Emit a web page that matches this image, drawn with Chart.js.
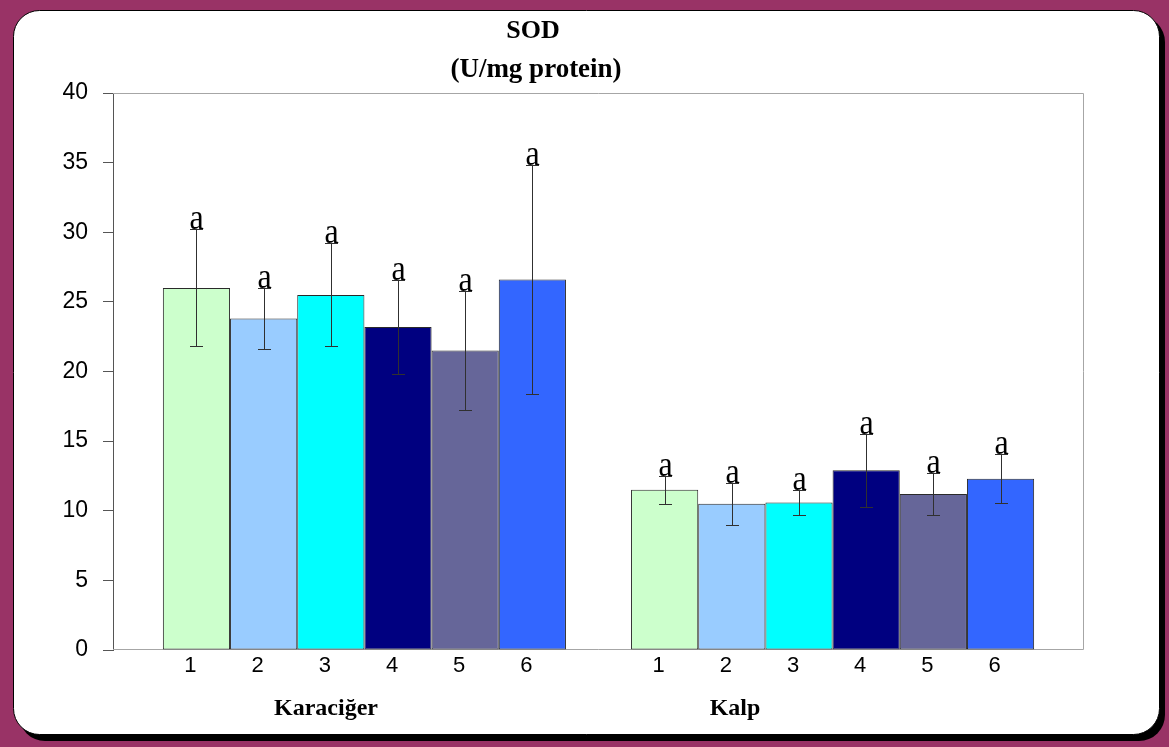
<!DOCTYPE html>
<html>
<head>
<meta charset="utf-8">
<title>SOD (U/mg protein)</title>
<script src="https://cdn.jsdelivr.net/npm/chart.js@4/dist/chart.umd.min.js"></script>
<style>
  html, body { margin: 0; padding: 0; background: #993366; }
  canvas { display: block; }
</style>
</head>
<body>
<canvas id="sodChart" width="1169" height="747"></canvas>
<script>
// Tissue groups and treatment groups
const groups = ['Karaciğer', 'Kalp'];
const treatments = ['1', '2', '3', '4', '5', '6'];

// SOD activity (U/mg protein): mean and error per treatment
const karacigerSOD = [26.0, 23.8, 25.5, 23.2, 21.5, 26.6];
const karacigerErr = [4.2, 2.2, 3.7, 3.4, 4.3, 8.2];
const kalpSOD = [11.5, 10.5, 10.6, 12.9, 11.2, 12.3];
const kalpErr = [1.0, 1.5, 0.9, 2.6, 1.5, 1.75];

// Significance letters above each bar
const karacigerLetters = ['a', 'a', 'a', 'a', 'a', 'a'];
const kalpLetters = ['a', 'a', 'a', 'a', 'a', 'a'];

// Y axis tick values
const yTicks = [0, 5, 10, 15, 20, 25, 30, 35, 40];

const barColors = ['#CCFFCC', '#99CCFF', '#00FFFF', '#000080', '#666699', '#3366FF'];

const means = [karacigerSOD, kalpSOD];
const errs = [karacigerErr, kalpErr];
const letters = [karacigerLetters, kalpLetters];

const datasets = treatments.map((t, i) => ({
  label: t,
  data: groups.map((g, gi) => ({ x: gi, y: means[gi][i] })),
  backgroundColor: barColors[i],
  borderColor: '#2a2a2a',
  borderWidth: 1,
  borderSkipped: false,
  categoryPercentage: 0.861,
  barPercentage: 1
}));

function roundRect(ctx, x, y, w, h, r) {
  ctx.beginPath();
  ctx.moveTo(x + r, y);
  ctx.lineTo(x + w - r, y);
  ctx.arcTo(x + w, y, x + w, y + r, r);
  ctx.lineTo(x + w, y + h - r);
  ctx.arcTo(x + w, y + h, x + w - r, y + h, r);
  ctx.lineTo(x + r, y + h);
  ctx.arcTo(x, y + h, x, y + h - r, r);
  ctx.lineTo(x, y + r);
  ctx.arcTo(x, y, x + r, y, r);
  ctx.closePath();
}

// Purple page, dropped shadow and white rounded card
const framePlugin = {
  id: 'frame',
  beforeDraw(chart) {
    const ctx = chart.ctx;
    ctx.save();
    ctx.fillStyle = '#993366';
    ctx.fillRect(0, 0, chart.width, chart.height);
    ctx.fillStyle = '#000';
    roundRect(ctx, 19, 16, 1146, 725, 26);
    ctx.fill();
    ctx.fillStyle = '#fff';
    roundRect(ctx, 13.5, 10.5, 1146, 724, 26);
    ctx.fill();
    ctx.strokeStyle = '#000';
    ctx.lineWidth = 1;
    ctx.stroke();
    ctx.restore();
  }
};

// Grey border round the plot area (top, right, bottom)
const plotBoxPlugin = {
  id: 'plotBox',
  beforeDatasetsDraw(chart) {
    const { ctx, chartArea: a } = chart;
    ctx.save();
    ctx.strokeStyle = '#a6a6a6';
    ctx.lineWidth = 1;
    ctx.beginPath();
    ctx.moveTo(a.left, a.top + 0.5);
    ctx.lineTo(a.right - 0.5, a.top + 0.5);
    ctx.lineTo(a.right - 0.5, a.bottom - 0.5);
    ctx.lineTo(a.left, a.bottom - 0.5);
    ctx.stroke();
    ctx.restore();
  }
};

// Error bars and significance letters
const errorBarPlugin = {
  id: 'errorBars',
  afterDatasetsDraw(chart) {
    const ctx = chart.ctx;
    const y = chart.scales.y;
    ctx.save();
    chart.data.datasets.forEach((ds, i) => {
      const meta = chart.getDatasetMeta(i);
      meta.data.forEach((bar, gi) => {
        const m = means[gi][i];
        const e = errs[gi][i];
        const x = Math.round(bar.x) + 0.5;
        const yTop = Math.round(y.getPixelForValue(m + e)) + 0.5;
        const yBot = Math.round(y.getPixelForValue(m - e)) + 0.5;
        ctx.strokeStyle = '#303030';
        ctx.lineWidth = 1;
        ctx.beginPath();
        ctx.moveTo(x, yTop);
        ctx.lineTo(x, yBot);
        ctx.moveTo(x - 6.5, yTop);
        ctx.lineTo(x + 6.5, yTop);
        ctx.moveTo(x - 6.5, yBot);
        ctx.lineTo(x + 6.5, yBot);
        ctx.stroke();

        ctx.save();
        ctx.translate(x, yTop - 0.5);
        ctx.scale(1, 1.15);
        ctx.fillStyle = '#000';
        ctx.font = '32px "Liberation Serif", "Times New Roman", serif';
        ctx.textAlign = 'center';
        ctx.textBaseline = 'alphabetic';
        ctx.fillText(letters[gi][i], 0, 0);
        ctx.restore();
      });
    });
    ctx.restore();
  }
};

// Title, treatment numbers under bars and tissue names
const labelPlugin = {
  id: 'labels',
  afterDraw(chart) {
    const ctx = chart.ctx;
    ctx.save();
    ctx.fillStyle = '#000';
    ctx.textAlign = 'center';
    ctx.textBaseline = 'middle';

    ctx.font = 'bold 26px "Liberation Serif", "Times New Roman", serif';
    ctx.fillText('SOD', 533, 31);
    ctx.font = 'bold 27px "Liberation Serif", "Times New Roman", serif';
    ctx.fillText('(U/mg protein)', 536, 70);

    ctx.font = '22px "Liberation Sans", Arial, sans-serif';
    chart.data.datasets.forEach((ds, i) => {
      chart.getDatasetMeta(i).data.forEach((bar) => {
        ctx.fillText(treatments[i], bar.x - 6, 666);
      });
    });

    ctx.font = 'bold 24px "Liberation Serif", "Times New Roman", serif';
    const groupLabelX = [326, 735];
    groups.forEach((g, gi) => ctx.fillText(g, groupLabelX[gi], 709));
    ctx.restore();
  }
};

new Chart(document.getElementById('sodChart'), {
  type: 'bar',
  data: { datasets },
  options: {
    responsive: false,
    animation: false,
    devicePixelRatio: 1,
    layout: { padding: { left: 0, top: 93, right: 85, bottom: 97 } },
    plugins: {
      legend: { display: false },
      tooltip: { enabled: false },
      title: { display: false }
    },
    scales: {
      x: {
        type: 'linear',
        min: -0.537,
        max: 1.537,
        offset: false,
        display: false,
        afterBuildTicks: (s) => { s.ticks = groups.map((g, gi) => ({ value: gi })); }
      },
      y: {
        type: 'linear',
        min: 0,
        max: 40,
        afterBuildTicks: (s) => { s.ticks = yTicks.map((v) => ({ value: v })); },
        afterFit: (s) => { s.width = 113; },
        grid: {
          drawOnChartArea: false,
          drawTicks: true,
          tickLength: 10,
          tickColor: '#555',
          color: '#555'
        },
        border: { display: true, color: '#555', width: 1 },
        ticks: {
          padding: 15,
          color: '#000',
          font: { family: '"Liberation Sans", Arial, sans-serif', size: 23 }
        }
      }
    }
  },
  plugins: [framePlugin, plotBoxPlugin, errorBarPlugin, labelPlugin]
});
</script>
</body>
</html>
